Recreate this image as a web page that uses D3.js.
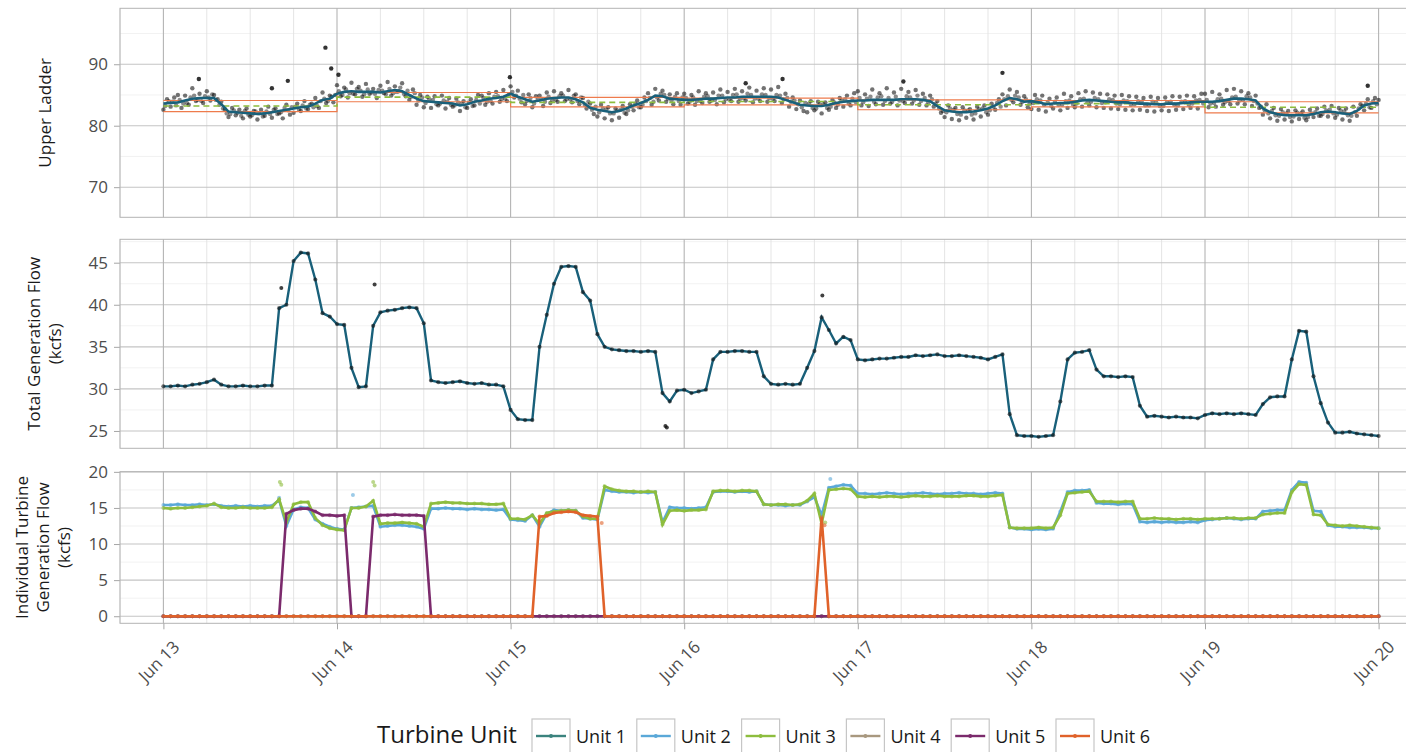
<!DOCTYPE html>
<html>
<head>
<meta charset="utf-8">
<script src="https://cdn.jsdelivr.net/npm/d3@7"></script>
<style>
  body { margin: 0; background: #fff; }
  svg { display: block; }
  text { font-family: "Open Sans", sans-serif; }
</style>
</head>
<body>
<svg id="chart"></svg>
<script>
// hourly series start Jun 13 00:00, one value per hour up to Jun 20 00:00
var dayLabels = ["Jun 13", "Jun 14", "Jun 15", "Jun 16", "Jun 17", "Jun 18", "Jun 19", "Jun 20"];
var units = ["Unit 1", "Unit 2", "Unit 3", "Unit 4", "Unit 5", "Unit 6"];

var ladderTicks = [70, 80, 90];
var flowTicks = [25, 30, 35, 40, 45];
var unitTicks = [0, 5, 10, 15, 20];

// upper ladder, smoothed (hourly)
var ladderSmooth = [
    83.6, 83.7, 83.8, 84.1, 84.4, 84.5, 84.5, 84.5, 83.5, 82.3, 82.2, 82.1, 82.0, 81.9, 82.0, 82.2, 82.4, 82.6, 82.8, 83.0, 83.1, 83.6, 84.2, 84.4,
    85.2, 85.5, 85.6, 85.5, 85.5, 85.5, 85.4, 85.6, 85.8, 85.6, 85.0, 84.4, 84.0, 83.9, 83.8, 83.7, 83.6, 83.3, 83.5, 83.9, 84.1, 84.4, 84.5, 84.7,
    85.2, 84.7, 84.3, 83.9, 84.1, 84.4, 84.5, 84.6, 84.6, 84.3, 83.8, 82.9, 82.6, 82.4, 82.2, 82.4, 82.8, 83.3, 83.7, 84.2, 84.9, 84.8, 84.4, 84.3,
    84.2, 84.2, 84.3, 84.4, 84.4, 84.5, 84.6, 84.6, 84.7, 84.7, 84.7, 84.7, 84.7, 84.6, 84.2, 83.8, 83.4, 83.3, 83.2, 83.2, 83.4, 83.7, 83.9, 84.0,
    84.1, 84.1, 84.2, 84.2, 84.2, 84.2, 84.3, 84.3, 84.3, 84.2, 84.0, 83.2, 82.5, 82.3, 82.2, 82.2, 82.3, 82.5, 82.8, 83.3, 84.0, 84.5, 84.3, 83.9,
    84.0, 83.8, 83.5, 83.6, 83.7, 83.7, 83.9, 84.1, 84.2, 84.1, 84.0, 83.9, 83.8, 83.8, 83.7, 83.6, 83.6, 83.5, 83.5, 83.6, 83.6, 83.7, 83.8, 83.9,
    83.9, 83.9, 84.0, 84.2, 84.4, 84.4, 84.3, 84.1, 82.8, 82.2, 81.9, 81.7, 81.7, 81.7, 81.7, 81.9, 82.2, 82.3, 82.2, 82.0, 81.9, 82.4, 83.3, 83.6, 83.7
];

// upper ladder readings on the hour and half hour
var ladderObs = [
    82.6, 84.3, 83.1, 84.6, 85.0, 82.9, 84.9, 83.4, 86.1, 84.0, 85.2, 83.7, 85.6, 84.1, 85.0, 84.3, 83.9, 82.7, 81.4, 82.9, 81.7, 82.6, 81.2, 82.8,
    81.5, 82.4, 81.0, 82.6, 81.6, 83.1, 81.3, 82.8, 82.0, 81.2, 83.4, 81.8, 82.1, 83.6, 82.4, 84.0, 82.7, 83.6, 84.5, 82.9, 85.4, 83.7, 84.9, 83.8,
    86.6, 84.8, 86.2, 84.6, 87.0, 85.1, 86.3, 84.7, 86.8, 85.2, 86.0, 84.5, 86.5, 85.3, 87.1, 84.9, 86.4, 85.6, 86.9, 84.8, 84.2, 85.9, 83.4, 85.0,
    83.0, 84.7, 82.9, 84.8, 83.3, 84.9, 82.8, 84.5, 83.1, 84.4, 82.4, 84.0, 82.9, 84.3, 83.3, 85.0, 84.9, 83.4, 85.3, 83.6, 85.5, 83.9, 85.8, 84.0,
    86.4, 84.6, 85.7, 83.8, 83.5, 85.1, 83.0, 84.8, 84.9, 83.2, 85.4, 83.7, 85.6, 83.9, 85.3, 84.0, 85.8, 83.8, 85.1, 83.5, 84.5, 82.8, 83.6, 81.9,
    81.5, 83.4, 81.2, 83.0, 80.9, 82.8, 81.3, 83.2, 81.9, 83.5, 82.5, 84.1, 83.0, 84.6, 85.3, 83.4, 86.0, 84.1, 85.7, 83.9, 85.1, 83.5, 85.3, 83.4,
    85.2, 83.6, 85.0, 83.4, 85.6, 83.7, 85.3, 83.9, 85.4, 83.5, 85.9, 83.8, 85.5, 84.0, 86.0, 83.9, 85.6, 84.1, 86.2, 83.8, 85.7, 84.0, 86.1, 83.9,
    85.9, 84.0, 86.3, 83.7, 85.2, 83.1, 84.6, 82.7, 84.1, 82.4, 82.2, 84.0, 82.5, 83.9, 82.0, 83.8, 82.6, 84.2, 82.9, 84.5, 83.1, 84.9, 83.3, 85.3,
    85.6, 83.3, 85.1, 83.2, 85.9, 83.5, 85.3, 83.4, 86.1, 83.6, 85.4, 83.3, 86.0, 83.7, 85.5, 83.6, 85.8, 83.4, 85.2, 83.3, 84.9, 83.1, 84.0, 82.1,
    81.4, 83.3, 81.1, 82.9, 80.9, 83.0, 81.3, 82.7, 81.0, 83.1, 81.5, 83.3, 81.8, 83.6, 82.6, 84.3, 85.1, 83.3, 85.9, 83.8, 85.5, 83.4, 84.8, 83.0,
    82.7, 85.0, 82.6, 84.9, 82.3, 84.4, 82.8, 84.6, 82.5, 85.2, 82.9, 84.8, 83.0, 85.3, 83.1, 85.6, 83.3, 85.4, 83.0, 85.2, 82.9, 85.1, 82.8, 84.9,
    82.7, 85.0, 82.6, 84.8, 82.5, 84.7, 82.6, 84.5, 82.4, 84.7, 82.3, 84.5, 82.5, 84.6, 82.4, 84.8, 82.6, 84.7, 82.7, 84.9, 82.9, 84.8, 82.8, 85.2,
    85.2, 83.0, 85.5, 83.1, 85.1, 83.4, 85.8, 83.5, 86.0, 83.6, 85.6, 83.5, 85.3, 83.2, 84.9, 82.9, 81.8, 83.5, 81.2, 82.9, 80.8, 82.7, 81.0, 82.4,
    80.7, 82.5, 81.1, 82.3, 80.9, 82.6, 81.4, 82.8, 81.6, 83.1, 81.5, 83.2, 81.3, 82.9, 81.0, 82.8, 80.8, 83.1, 81.6, 83.5, 82.5, 84.3, 82.9, 84.5,
    84.2
];

// upper ladder readings at quarter past / quarter to
var ladderObsQ = [
    83.2, 84.0, 83.9, 83.3, 84.2, 83.6, 83.7, 84.6, 84.9, 84.2, 84.0, 84.8, 84.6, 85.1, 84.2, 83.4, 82.8, 82.0, 81.9, 82.5, 82.1, 81.6, 82.4, 81.8,
    81.7, 82.3, 82.0, 81.5, 82.3, 81.9, 82.6, 81.9, 82.2, 82.9, 82.5, 83.0, 83.1, 82.6, 83.3, 82.8, 83.4, 83.0, 83.2, 84.0, 84.4, 84.0, 84.7, 85.0,
    85.6, 85.0, 85.9, 85.3, 85.2, 86.0, 85.7, 85.1, 85.9, 85.4, 85.2, 85.8, 85.7, 85.1, 86.0, 85.3, 85.5, 86.2, 85.2, 85.7, 84.7, 85.3, 84.1, 84.6,
    83.7, 84.3, 84.2, 83.5, 83.6, 84.1, 83.9, 83.4, 83.3, 83.8, 83.6, 83.0, 83.8, 83.2, 84.2, 83.6, 84.5, 83.9, 84.0, 84.7, 84.8, 84.3, 84.4, 85.1,
    85.5, 84.9, 84.4, 85.0, 84.0, 84.5, 83.6, 84.2, 84.4, 83.9, 84.7, 84.1, 84.2, 84.8, 84.9, 84.3, 84.3, 84.9, 84.0, 84.6, 83.4, 83.9, 82.6, 83.1,
    82.2, 82.8, 82.7, 82.0, 82.0, 82.5, 82.6, 82.1, 82.5, 83.1, 83.6, 83.0, 83.4, 84.0, 84.5, 83.9, 84.6, 85.2, 85.0, 84.4, 84.1, 84.7, 84.0, 84.6,
    84.5, 83.9, 84.6, 84.0, 84.0, 84.7, 84.8, 84.1, 84.2, 84.9, 84.9, 84.3, 84.3, 85.0, 85.1, 84.4, 84.5, 85.2, 85.0, 84.4, 84.4, 85.1, 85.0, 84.5,
    84.4, 85.0, 84.9, 84.3, 84.5, 83.9, 84.1, 83.5, 83.0, 83.7, 83.6, 82.9, 82.8, 83.5, 83.5, 82.9, 83.1, 83.8, 83.4, 84.1, 84.3, 83.6, 84.4, 83.8,
    84.5, 83.8, 84.4, 84.7, 83.9, 84.6, 84.8, 84.0, 84.5, 83.9, 84.7, 84.1, 84.0, 84.8, 84.6, 84.1, 84.9, 84.0, 84.5, 83.8, 84.3, 83.6, 82.8, 82.4,
    82.2, 82.8, 82.6, 81.9, 81.8, 82.5, 82.5, 81.8, 82.0, 82.7, 82.8, 82.2, 82.5, 83.1, 83.7, 83.1, 84.3, 84.8, 84.2, 84.9, 84.6, 83.9, 84.3, 83.6,
    83.7, 84.3, 84.1, 83.4, 83.8, 83.2, 83.9, 83.4, 83.4, 84.0, 84.1, 83.5, 83.6, 84.3, 84.4, 83.8, 83.9, 84.5, 84.3, 83.7, 83.8, 84.3, 84.2, 83.6,
    83.5, 84.1, 84.0, 83.4, 83.5, 84.0, 83.9, 83.3, 83.3, 83.9, 83.8, 83.2, 83.2, 83.8, 83.9, 83.4, 83.3, 83.9, 84.0, 83.4, 83.6, 84.1, 84.2, 83.6,
    84.2, 83.6, 83.7, 84.3, 84.4, 83.8, 84.0, 84.6, 84.7, 84.1, 84.2, 84.8, 84.6, 84.0, 83.6, 83.1, 82.5, 82.0, 82.4, 81.7, 81.6, 82.2, 82.0, 81.4,
    81.5, 82.1, 82.0, 81.3, 81.4, 82.0, 82.2, 81.6, 81.9, 82.5, 82.6, 82.0, 81.8, 82.5, 82.3, 81.7, 81.6, 82.2, 82.8, 83.2, 83.6, 83.0, 84.0, 83.5
];

// [hour, value]
var ladderOutliers = [[4.9, 87.6], [15.0, 86.1], [17.2, 87.3], [22.4, 92.7], [23.2, 89.3], [24.2, 88.3], [47.9, 87.9],
    [80.5, 86.9], [85.6, 87.6], [102.3, 87.2], [116.0, 88.6], [166.5, 86.5]];

// daily criteria (Jun 13 .. Jun 19)
var ladderUpper = [84.1, 85.4, 84.6, 84.5, 84.2, 84.1, 83.9];
var ladderLower = [82.3, 83.9, 83.05, 83.4, 82.6, 83.05, 82.1];
var ladderTarget = [83.2, 84.65, 83.8, 83.95, 83.4, 83.6, 83.0];

// total generation flow, kcfs (hourly)
var flowTotal = [
    30.3, 30.3, 30.4, 30.3, 30.5, 30.6, 30.8, 31.1, 30.5, 30.3, 30.3, 30.4, 30.3, 30.3, 30.4, 30.4, 39.6, 40.0, 45.2, 46.2, 46.1, 43.0, 39.0, 38.6,
    37.7, 37.6, 32.5, 30.2, 30.3, 37.5, 39.1, 39.3, 39.4, 39.6, 39.7, 39.6, 37.8, 31.0, 30.8, 30.7, 30.8, 30.9, 30.7, 30.6, 30.7, 30.5, 30.5, 30.3,
    27.5, 26.4, 26.3, 26.3, 35.0, 38.8, 42.5, 44.5, 44.6, 44.5, 41.5, 40.5, 36.5, 35.0, 34.7, 34.6, 34.5, 34.5, 34.4, 34.5, 34.4, 29.5, 28.5, 29.8,
    29.9, 29.5, 29.7, 29.9, 33.5, 34.4, 34.4, 34.5, 34.5, 34.4, 34.4, 31.5, 30.6, 30.5, 30.6, 30.5, 30.6, 32.5, 34.5, 38.5, 37.0, 35.4, 36.2, 35.8,
    33.5, 33.4, 33.5, 33.6, 33.6, 33.7, 33.8, 33.8, 34.0, 33.9, 34.0, 34.1, 33.9, 33.9, 34.0, 33.9, 33.8, 33.7, 33.5, 33.8, 34.1, 27.0, 24.5, 24.4,
    24.4, 24.3, 24.4, 24.5, 28.5, 33.5, 34.3, 34.4, 34.6, 32.3, 31.5, 31.5, 31.4, 31.5, 31.4, 28.0, 26.7, 26.8, 26.7, 26.6, 26.7, 26.6, 26.6, 26.5,
    26.9, 27.1, 27.0, 27.1, 27.0, 27.1, 27.0, 26.9, 28.2, 29.0, 29.1, 29.1, 33.5, 36.9, 36.8, 31.5, 28.3, 26.0, 24.8, 24.8, 24.9, 24.7, 24.6, 24.5, 24.4
];
var flowOutliers = [[16.3, 42.0], [29.2, 42.4], [69.4, 25.6], [69.6, 25.4], [91.1, 41.1]];

// individual turbine flow, kcfs (hourly)
var unit1 = [
    0, 0, 0, 0, 0, 0, 0, 0, 0, 0, 0, 0, 0, 0, 0, 0, 0, 0, 0, 0, 0, 0, 0, 0,
    0, 0, 0, 0, 0, 0, 0, 0, 0, 0, 0, 0, 0, 0, 0, 0, 0, 0, 0, 0, 0, 0, 0, 0,
    0, 0, 0, 0, 0, 0, 0, 0, 0, 0, 0, 0, 0, 0, 0, 0, 0, 0, 0, 0, 0, 0, 0, 0,
    0, 0, 0, 0, 0, 0, 0, 0, 0, 0, 0, 0, 0, 0, 0, 0, 0, 0, 0, 0, 0, 0, 0, 0,
    0, 0, 0, 0, 0, 0, 0, 0, 0, 0, 0, 0, 0, 0, 0, 0, 0, 0, 0, 0, 0, 0, 0, 0,
    0, 0, 0, 0, 0, 0, 0, 0, 0, 0, 0, 0, 0, 0, 0, 0, 0, 0, 0, 0, 0, 0, 0, 0,
    0, 0, 0, 0, 0, 0, 0, 0, 0, 0, 0, 0, 0, 0, 0, 0, 0, 0, 0, 0, 0, 0, 0, 0, 0
];
var unit2 = [
    15.4, 15.4, 15.5, 15.4, 15.4, 15.5, 15.4, 15.5, 15.3, 15.2, 15.3, 15.2, 15.3, 15.2, 15.3, 15.3, 16.1, 12.5, 14.8, 15.1, 15.0, 13.4, 12.8, 12.4,
    12.1, 12.0, 15.0, 15.1, 15.2, 15.3, 12.4, 12.5, 12.6, 12.6, 12.5, 12.4, 12.1, 14.9, 14.9, 15.0, 14.9, 14.9, 14.8, 14.9, 14.8, 14.8, 14.7, 14.8,
    13.4, 13.3, 13.2, 14.0, 12.4, 14.2, 14.7, 14.6, 14.7, 14.6, 13.6, 13.5, 13.4, 17.5, 17.3, 17.2, 17.2, 17.1, 17.2, 17.1, 17.2, 13.0, 15.1, 15.0,
    15.0, 14.9, 15.0, 15.1, 17.2, 17.3, 17.3, 17.2, 17.3, 17.2, 17.3, 15.5, 15.4, 15.4, 15.3, 15.4, 15.4, 15.9, 16.5, 14.0, 17.8, 18.0, 18.2, 18.1,
    17.0, 17.0, 16.9, 17.0, 17.1, 17.0, 16.9, 17.0, 17.0, 17.1, 17.0, 16.9, 17.0, 17.0, 17.1, 17.0, 17.0, 16.9, 17.0, 17.1, 17.0, 12.3, 12.1, 12.1,
    12.0, 12.1, 12.0, 12.1, 14.5, 17.2, 17.4, 17.4, 17.5, 15.7, 15.6, 15.6, 15.5, 15.6, 15.5, 13.1, 13.0, 13.1, 13.0, 13.1, 13.0, 13.0, 13.1, 13.0,
    13.3, 13.4, 13.5, 13.6, 13.5, 13.4, 13.5, 13.5, 14.5, 14.6, 14.7, 14.7, 17.5, 18.6, 18.5, 14.6, 14.5, 12.6, 12.4, 12.4, 12.3, 12.3, 12.3, 12.2, 12.2
];
var unit3 = [
    15.0, 14.9, 15.0, 15.0, 15.1, 15.2, 15.3, 15.6, 15.1, 15.0, 15.0, 15.1, 15.0, 15.0, 15.0, 15.1, 16.2, 13.0, 15.5, 15.8, 15.8, 13.6, 12.6, 12.2,
    12.0, 11.9, 15.0, 15.0, 15.2, 16.0, 12.8, 12.9, 12.9, 13.0, 12.9, 12.8, 12.4, 15.6, 15.7, 15.8, 15.7, 15.7, 15.6, 15.6, 15.6, 15.5, 15.5, 15.6,
    13.5, 13.5, 13.4, 14.0, 12.8, 14.3, 14.5, 14.6, 14.7, 14.6, 13.8, 13.5, 13.5, 18.0, 17.6, 17.4, 17.3, 17.3, 17.2, 17.3, 17.2, 12.7, 14.6, 14.7,
    14.6, 14.7, 14.7, 14.8, 17.3, 17.4, 17.4, 17.3, 17.4, 17.4, 17.3, 15.5, 15.4, 15.5, 15.5, 15.4, 15.5, 16.0, 17.0, 12.8, 17.5, 17.6, 17.7, 17.6,
    16.6, 16.5, 16.6, 16.5, 16.6, 16.6, 16.5, 16.6, 16.7, 16.6, 16.6, 16.7, 16.6, 16.6, 16.6, 16.7, 16.7, 16.6, 16.6, 16.7, 16.8, 12.3, 12.2, 12.2,
    12.2, 12.3, 12.2, 12.3, 14.0, 17.0, 17.1, 17.2, 17.3, 15.9, 15.9, 15.9, 15.8, 15.9, 15.9, 13.5, 13.5, 13.6, 13.5, 13.5, 13.4, 13.5, 13.5, 13.4,
    13.5, 13.5, 13.5, 13.6, 13.6, 13.5, 13.6, 13.6, 14.1, 14.2, 14.3, 14.3, 17.2, 18.3, 18.2, 14.1, 14.0, 12.7, 12.6, 12.5, 12.6, 12.5, 12.4, 12.3, 12.2
];
var unit4 = [
    0, 0, 0, 0, 0, 0, 0, 0, 0, 0, 0, 0, 0, 0, 0, 0, 0, 0, 0, 0, 0, 0, 0, 0,
    0, 0, 0, 0, 0, 0, 0, 0, 0, 0, 0, 0, 0, 0, 0, 0, 0, 0, 0, 0, 0, 0, 0, 0,
    0, 0, 0, 0, 0, 0, 0, 0, 0, 0, 0, 0, 0, 0, 0, 0, 0, 0, 0, 0, 0, 0, 0, 0,
    0, 0, 0, 0, 0, 0, 0, 0, 0, 0, 0, 0, 0, 0, 0, 0, 0, 0, 0, 0, 0, 0, 0, 0,
    0, 0, 0, 0, 0, 0, 0, 0, 0, 0, 0, 0, 0, 0, 0, 0, 0, 0, 0, 0, 0, 0, 0, 0,
    0, 0, 0, 0, 0, 0, 0, 0, 0, 0, 0, 0, 0, 0, 0, 0, 0, 0, 0, 0, 0, 0, 0, 0,
    0, 0, 0, 0, 0, 0, 0, 0, 0, 0, 0, 0, 0, 0, 0, 0, 0, 0, 0, 0, 0, 0, 0, 0, 0
];
var unit5 = [
    0, 0, 0, 0, 0, 0, 0, 0, 0, 0, 0, 0, 0, 0, 0, 0, 0, 14.2, 14.7, 14.9, 14.9, 14.5, 14.0, 14.0,
    13.9, 14.0, 0, 0, 0, 13.8, 14.0, 14.0, 14.1, 14.0, 14.0, 14.0, 13.9, 0, 0, 0, 0, 0, 0, 0, 0, 0, 0, 0,
    0, 0, 0, 0, 0, 0, 0, 0, 0, 0, 0, 0, 0, 0, 0, 0, 0, 0, 0, 0, 0, 0, 0, 0,
    0, 0, 0, 0, 0, 0, 0, 0, 0, 0, 0, 0, 0, 0, 0, 0, 0, 0, 0, 0, 0, 0, 0, 0,
    0, 0, 0, 0, 0, 0, 0, 0, 0, 0, 0, 0, 0, 0, 0, 0, 0, 0, 0, 0, 0, 0, 0, 0,
    0, 0, 0, 0, 0, 0, 0, 0, 0, 0, 0, 0, 0, 0, 0, 0, 0, 0, 0, 0, 0, 0, 0, 0,
    0, 0, 0, 0, 0, 0, 0, 0, 0, 0, 0, 0, 0, 0, 0, 0, 0, 0, 0, 0, 0, 0, 0, 0, 0
];
var unit6 = [
    0, 0, 0, 0, 0, 0, 0, 0, 0, 0, 0, 0, 0, 0, 0, 0, 0, 0, 0, 0, 0, 0, 0, 0,
    0, 0, 0, 0, 0, 0, 0, 0, 0, 0, 0, 0, 0, 0, 0, 0, 0, 0, 0, 0, 0, 0, 0, 0,
    0, 0, 0, 0, 13.8, 13.9, 14.3, 14.4, 14.5, 14.4, 14.0, 13.9, 13.8, 0, 0, 0, 0, 0, 0, 0, 0, 0, 0, 0,
    0, 0, 0, 0, 0, 0, 0, 0, 0, 0, 0, 0, 0, 0, 0, 0, 0, 0, 0, 13.7, 0, 0, 0, 0,
    0, 0, 0, 0, 0, 0, 0, 0, 0, 0, 0, 0, 0, 0, 0, 0, 0, 0, 0, 0, 0, 0, 0, 0,
    0, 0, 0, 0, 0, 0, 0, 0, 0, 0, 0, 0, 0, 0, 0, 0, 0, 0, 0, 0, 0, 0, 0, 0,
    0, 0, 0, 0, 0, 0, 0, 0, 0, 0, 0, 0, 0, 0, 0, 0, 0, 0, 0, 0, 0, 0, 0, 0, 0
];
// stray readings [hour, value]
var unit2Extra = [[16.0, 16.4], [26.2, 16.8], [92.2, 19.0]];
var unit3Extra = [[16.1, 18.6], [16.3, 18.2], [29.0, 18.6], [29.2, 18.1], [91.5, 13.0]];
var unit6Extra = [[60.6, 12.9], [91.4, 12.6]];

var unitSeries = [unit1, unit2, unit3, unit4, unit5, unit6];
var unitExtras = [[], unit2Extra, unit3Extra, [], [], unit6Extra];
var unitColors = ["#3b837e", "#5aa8d8", "#8dbd3e", "#a8987f", "#7b2a6c", "#e0622a"];

var startMs = Date.UTC(2019, 5, 13);
var hourDate = function(h) {
    return new Date(startMs + h * 3600000);
};

var svg = d3.select("#chart").attr("width", 1406).attr("height", 752);
var left = 120, right = 1422;

var x = d3.scaleUtc().domain([hourDate(-6), hourDate(174)]).range([left, right]);
var dayTimes = dayLabels.map(function(d, i) { return hourDate(i * 24); });
var minorTimes = d3.utcHour.every(6).range(hourDate(-6), hourDate(175)).filter(function(d) {
    return d.getUTCHours() !== 0;
});

var panel = function(name, top, bottom, domain, ticks, minor) {
    var y = d3.scaleLinear().domain(domain).range([bottom, top]);
    var g = svg.append("g").attr("class", "panel " + name);
    g.append("rect").attr("x", left).attr("y", top).attr("width", right - left).attr("height", bottom - top)
        .attr("fill", "#fff");
    g.selectAll(".hminor").data(minor).enter().append("line")
        .attr("x1", left).attr("x2", right).attr("y1", y).attr("y2", y)
        .attr("stroke", "#efefef").attr("stroke-width", 0.8);
    g.selectAll(".vminor").data(minorTimes).enter().append("line")
        .attr("x1", x).attr("x2", x).attr("y1", top).attr("y2", bottom)
        .attr("stroke", "#e2e2e2").attr("stroke-width", 0.9);
    g.selectAll(".hmajor").data(ticks).enter().append("line")
        .attr("x1", left).attr("x2", right).attr("y1", y).attr("y2", y)
        .attr("stroke", "#c4c4c4").attr("stroke-width", 1.1);
    g.selectAll(".vmajor").data(dayTimes).enter().append("line")
        .attr("x1", x).attr("x2", x).attr("y1", top).attr("y2", bottom)
        .attr("stroke", "#b4b4b4").attr("stroke-width", 1.1);

    svg.append("clipPath").attr("id", "clip-" + name).append("rect")
        .attr("x", left).attr("y", top).attr("width", right - left).attr("height", bottom - top);
    var plot = g.append("g").attr("clip-path", "url(#clip-" + name + ")");

    var yAxis = d3.axisLeft(y).tickValues(ticks).tickSize(6).tickPadding(6);
    var ax = g.append("g").attr("transform", "translate(" + left + ",0)").call(yAxis);
    ax.select(".domain").remove();
    ax.selectAll("line").attr("stroke", "#a6a6a6");
    ax.selectAll("text").attr("fill", "#4d4d4d").style("font-size", "17px")
        .style("font-family", "'Open Sans', sans-serif");

    return { y: y, g: g, plot: plot, top: top, bottom: bottom };
};

var border = function(p) {
    p.g.append("rect").attr("x", left).attr("y", p.top).attr("width", right - left).attr("height", p.bottom - p.top)
        .attr("fill", "none").attr("stroke", "#b3b3b3").attr("stroke-width", 1);
};

var yTitle = function(lines, cx, cy) {
    lines.forEach(function(t, i) {
        svg.append("text")
            .attr("transform", "translate(" + (cx + i * 21) + "," + cy + ") rotate(-90)")
            .attr("text-anchor", "middle").attr("dy", "0.35em")
            .attr("fill", "#1a1a1a").style("font-size", "17px")
            .text(t);
    });
};

// ---- panel 1: upper ladder
var p1 = panel("ladder", 8.3, 217.3, [65.1, 99.1], ladderTicks, [75, 85, 95]);

p1.plot.selectAll(".obs").data(ladderObs).enter().append("circle")
    .attr("cx", function(d, i) { return x(hourDate(i * 0.5)); })
    .attr("cy", function(d) { return p1.y(d); })
    .attr("r", 2.2).attr("fill", "#000").attr("fill-opacity", 0.55);

p1.plot.selectAll(".obsq").data(ladderObsQ).enter().append("circle")
    .attr("cx", function(d, i) { return x(hourDate(i * 0.5 + 0.25)); })
    .attr("cy", function(d) { return p1.y(d); })
    .attr("r", 2.2).attr("fill", "#000").attr("fill-opacity", 0.45);

p1.plot.selectAll(".out").data(ladderOutliers).enter().append("circle")
    .attr("cx", function(d) { return x(hourDate(d[0])); })
    .attr("cy", function(d) { return p1.y(d[1]); })
    .attr("r", 2.2).attr("fill", "#000").attr("fill-opacity", 0.8);

var stepLine = d3.line()
    .x(function(d, i) { return x(hourDate(i * 24)); })
    .y(function(d) { return p1.y(d); })
    .curve(d3.curveStepAfter);

[ladderUpper, ladderLower].forEach(function(arr) {
    p1.plot.append("path").datum(arr.concat([arr[arr.length - 1]]))
        .attr("d", stepLine).attr("fill", "none")
        .attr("stroke", "#ee7b4c").attr("stroke-width", 1.2);
});
p1.plot.append("path").datum(ladderTarget.concat([ladderTarget[ladderTarget.length - 1]]))
    .attr("d", stepLine).attr("fill", "none")
    .attr("stroke", "#8dbd3e").attr("stroke-width", 1.6).attr("stroke-dasharray", "6,4");

var hourLine = function(yScale) {
    return d3.line()
        .x(function(d, i) { return x(hourDate(i)); })
        .y(function(d) { return yScale(d); });
};

p1.plot.append("path").datum(ladderSmooth)
    .attr("d", hourLine(p1.y)).attr("fill", "none")
    .attr("stroke", "#19607a").attr("stroke-width", 2.6);
border(p1);
yTitle(["Upper Ladder"], 45, 112.8);

// ---- panel 2: total generation flow
var p2 = panel("flow", 239.3, 448.3, [22.94, 47.78], flowTicks, [27.5, 32.5, 37.5, 42.5, 47.5]);

p2.plot.append("path").datum(flowTotal)
    .attr("d", hourLine(p2.y)).attr("fill", "none")
    .attr("stroke", "#19607a").attr("stroke-width", 2.4);
p2.plot.selectAll(".pt").data(flowTotal).enter().append("circle")
    .attr("cx", function(d, i) { return x(hourDate(i)); })
    .attr("cy", function(d) { return p2.y(d); })
    .attr("r", 2.1).attr("fill", "#111").attr("fill-opacity", 0.6);
p2.plot.selectAll(".out").data(flowOutliers).enter().append("circle")
    .attr("cx", function(d) { return x(hourDate(d[0])); })
    .attr("cy", function(d) { return p2.y(d[1]); })
    .attr("r", 2).attr("fill", "#111").attr("fill-opacity", 0.8);
border(p2);
yTitle(["Total Generation Flow", "(kcfs)"], 34, 343.8);

// ---- panel 3: individual turbines
var p3 = panel("units", 471.7, 623.3, [-0.98, 20.02], unitTicks, [2.5, 7.5, 12.5, 17.5]);

unitSeries.forEach(function(series, k) {
    var c = unitColors[k];
    var grp = p3.plot.append("g");
    grp.append("path").datum(series)
        .attr("d", hourLine(p3.y)).attr("fill", "none")
        .attr("stroke", c).attr("stroke-width", 2.6);
    grp.selectAll("circle").data(series.map(function(v, i) { return [i, v]; }).concat(unitExtras[k]))
        .enter().append("circle")
        .attr("cx", function(d) { return x(hourDate(d[0])); })
        .attr("cy", function(d) { return p3.y(d[1]); })
        .attr("r", 2).attr("fill", c).attr("fill-opacity", 0.6);
});
border(p3);
yTitle(["Individual Turbine", "Generation Flow", "(kcfs)"], 22, 547.5);

// x axis under the last panel
var xAxis = d3.axisBottom(x).tickValues(dayTimes)
    .tickFormat(function(d, i) { return dayLabels[i]; })
    .tickSize(6).tickPadding(4);
var xa = svg.append("g").attr("transform", "translate(0," + p3.bottom + ")").call(xAxis);
xa.select(".domain").remove();
xa.selectAll("line").attr("stroke", "#a6a6a6");
xa.selectAll("text")
    .attr("fill", "#4d4d4d").style("font-size", "17px").style("font-family", "'Open Sans', sans-serif")
    .attr("x", 0).attr("y", 0).attr("dy", "0.35em")
    .attr("text-anchor", "middle")
    .attr("transform", "translate(-5,38) rotate(-45)");

// legend
var legend = svg.append("g");
legend.append("text").attr("x", 377).attr("y", 735).attr("dy", "0.35em")
    .attr("fill", "#1a1a1a").style("font-size", "24px").text("Turbine Unit");

var item = legend.selectAll(".item").data(units).enter().append("g")
    .attr("transform", function(d, i) { return "translate(" + (532 + i * 104.8) + ",0)"; });
item.append("rect").attr("x", 0).attr("y", 719).attr("width", 38).attr("height", 40)
    .attr("fill", "#fff").attr("stroke", "#c6c6c6").attr("stroke-width", 1.2);
item.append("line").attr("x1", 4).attr("x2", 34).attr("y1", 736).attr("y2", 736)
    .attr("stroke", function(d, i) { return unitColors[i]; }).attr("stroke-width", 2.4);
item.append("circle").attr("cx", 19).attr("cy", 736).attr("r", 2)
    .attr("fill", function(d, i) { return unitColors[i]; });
item.append("text").attr("x", 44).attr("y", 737).attr("dy", "0.35em")
    .attr("fill", "#1a1a1a").style("font-size", "18px").text(function(d) { return d; });
</script>
</body>
</html>
